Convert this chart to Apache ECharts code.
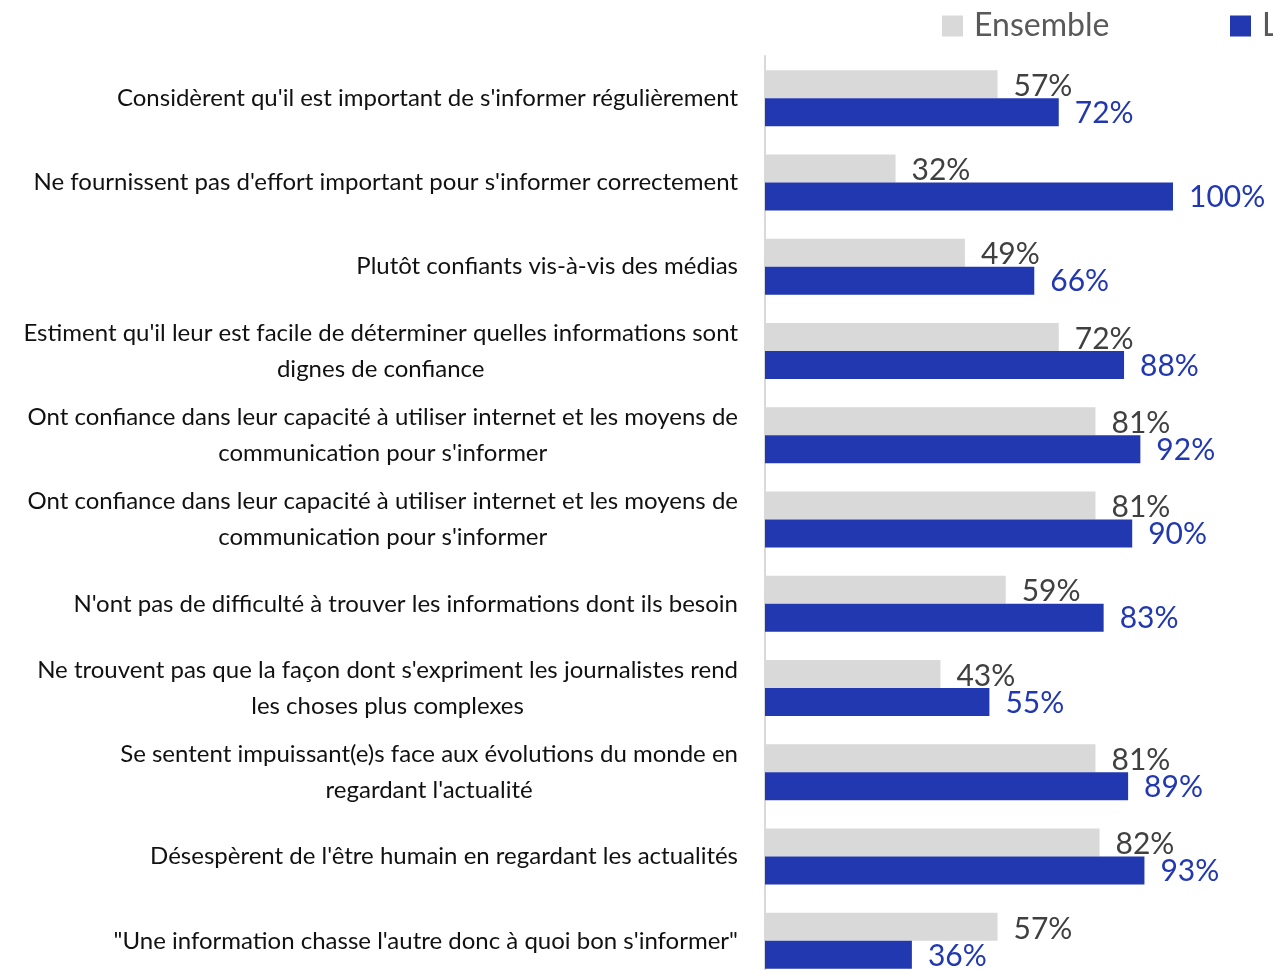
<!DOCTYPE html>
<html><head><meta charset="utf-8">
<script src="https://cdn.jsdelivr.net/npm/echarts@6/dist/echarts.min.js"></script>
<style>html,body{margin:0;padding:0;background:#fff}#c{width:1273px;height:970px}</style>
</head><body><div id="c"></div>
<script>
const categories = [
  "Considèrent qu'il est important de s'informer régulièrement",
  "Ne fournissent pas d'effort important pour s'informer correctement",
  "Plutôt confiants vis-à-vis des médias",
  "Estiment qu'il leur est facile de déterminer quelles informations sont\ndignes de confiance",
  "Ont confiance dans leur capacité à utiliser internet et les moyens de\ncommunication pour s'informer",
  "Ont confiance dans leur capacité à utiliser internet et les moyens de\ncommunication pour s'informer",
  "N'ont pas de difficulté à trouver les informations dont ils besoin",
  "Ne trouvent pas que la façon dont s'expriment les journalistes rend\nles choses plus complexes",
  "Se sentent impuissant(e)s face aux évolutions du monde en\nregardant l'actualité",
  "Désespèrent de l'être humain en regardant les actualités",
  "\"Une information chasse l'autre donc à quoi bon s'informer\""
];
const seriesNames = ["Ensemble", "Les jeunes"];
const ensembleValues = [57, 32, 49, 72, 81, 81, 59, 43, 81, 82, 57];
const jeunesValues = [72, 100, 66, 88, 92, 90, 83, 55, 89, 93, 36];

const FONT = "Lato";
const legendText = {fontSize: 32, color: '#595959', fontFamily: FONT, padding: [0, 0, 0, 6]};
const chart = echarts.init(document.getElementById('c'), null, {renderer: 'canvas'});
chart.setOption({
  animation: false,
  textStyle: {fontFamily: FONT},
  legend: [
    {data: [seriesNames[0]], left: 942, top: 10, padding: 0, icon: 'rect', itemWidth: 21, itemHeight: 21, itemGap: 12, textStyle: legendText},
    {data: [seriesNames[1]], left: 1230, top: 10, padding: 0, icon: 'rect', itemWidth: 21, itemHeight: 21, itemGap: 12, textStyle: legendText}
  ],
  grid: {left: 765, right: 100, top: 56, height: 927, containLabel: false, outerBoundsMode: 'none'},
  xAxis: {type: 'value', min: 0, max: 100, show: false},
  yAxis: {
    type: 'category', data: categories, inverse: true,
    axisLine: {show: true, lineStyle: {color: '#d9d9d9', width: 2}},
    axisTick: {show: false},
    axisLabel: {
      margin: 27, fontSize: 24, color: '#111', fontFamily: FONT,
      formatter: v => v.split('\n').map(l => '{c|' + l + '}').join('\n'),
      rich: {c: {align: 'center', fontSize: 24, lineHeight: 36, color: '#111', fontFamily: FONT}}
    }
  },
  series: [
    {name: seriesNames[0], type: 'bar', data: ensembleValues, barWidth: 28, barGap: '0%',
     itemStyle: {color: '#d9d9d9'},
     label: {show: true, position: 'right', distance: 16, formatter: '{c}%', fontSize: 30, color: '#404040', fontFamily: FONT, offset: [0, 2]}},
    {name: seriesNames[1], type: 'bar', data: jeunesValues, barWidth: 28, barGap: '0%',
     itemStyle: {color: '#2138b0'},
     label: {show: true, position: 'right', distance: 16, formatter: '{c}%', fontSize: 30, color: '#2138b0', fontFamily: FONT, offset: [0, 1]}}
  ]
});
</script></body></html>
